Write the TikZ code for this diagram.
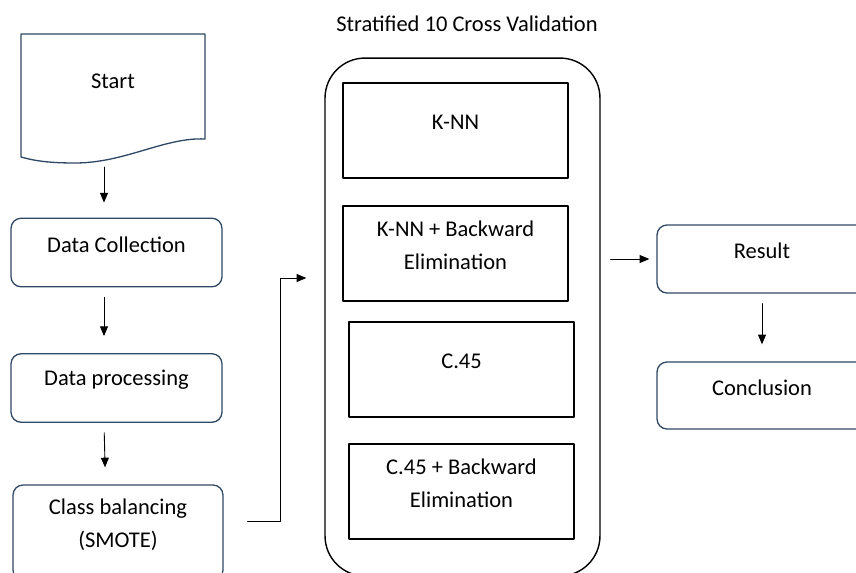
\documentclass[tikz,border=0pt]{standalone}
\usepackage{fontspec}
\setmainfont{Carlito}
\usetikzlibrary{arrows.meta}
\definecolor{boxblue}{RGB}{46,72,102}
\tikzset{
  stepbox/.style={draw=boxblue, line width=0.75pt, rounded corners=0.2cm,
    minimum width=4.22cm, minimum height=1.37cm},
  algobox/.style={draw=black, line width=0.8pt,
    minimum width=4.5cm, minimum height=1.9cm},
  boxtext/.style={label={[align=center, yshift=0.16cm]center:#1}},
  flow/.style={-{Triangle[width=4.5pt,length=5.5pt]}, line width=0.5pt,
    shorten <=0.2cm, shorten >=0.34cm}
}
\begin{document}
\begin{tikzpicture}[x=0.02cm, y=-0.02cm, line cap=round, line join=round,
  font=\fontsize{12.8pt}{18.7pt}\selectfont]
	%Frame of the picture
	\useasboundingbox (0,0) rectangle (856,572);
	\clip (0,0) rectangle (856,572);

	%Coordinates
	\coordinate (startfoot) at (104,162);
	\coordinate (bend) at (280,278);

	%Start (document shape)
	\path[draw=boxblue, line width=0.75pt] (21,157) -- (21,34) -- (205,34) -- (205,139)
	  .. controls (165,137) and (125,163) .. (75,163)
	  .. controls (50,163) and (35,161) .. (21,157);
	\node (start) at (113,81) {Start};

	%Left column
	\node[stepbox, boxtext={Data Collection}] (dc) at (116.5,252.5) {};
	\node[stepbox, boxtext={Data processing}] (dp) at (116.5,388) {};
	\node[stepbox, minimum width=4.2cm, minimum height=1.9cm,
	  boxtext={Class balancing\\(SMOTE)}] (cb) at (118,532.5) {};

	%Cross validation frame
	\node[draw=black, line width=0.8pt, rounded corners=0.8cm,
	  minimum width=5.5cm, minimum height=10.36cm] (frame) at (462.5,317) {};
	\node (title) at (467,24) {Stratified 10 Cross Validation};

	\node[algobox, boxtext={K-NN}] (knn) at (455.5,130.5) {};
	\node[algobox, boxtext={K-NN + Backward\\Elimination}] (knnbe) at (455.5,253.5) {};
	\node[algobox, boxtext={C.45}] (c45) at (461.5,369.5) {};
	\node[algobox, boxtext={C.45 + Backward\\Elimination}] (c45be) at (461.5,491.5) {};

	%Right column
	\node[stepbox, minimum width=4.2cm, minimum height=1.36cm, boxtext={Result}] (res) at (762,259) {};
	\node[stepbox, minimum width=4.2cm, minimum height=1.34cm, boxtext={Conclusion}] (con) at (762,395.5) {};

	%Connectors
	\draw[flow, shorten <=0.1cm, shorten >=0.3cm] (startfoot) -- (dc.north -| startfoot);
	\draw[flow] ([xshift=-0.25cm]dc.south) -- ([xshift=-0.25cm]dp.north);
	\draw[flow] ([xshift=-0.25cm]dp.south) -- ([xshift=-0.25cm]cb.north);
	\draw[flow, shorten <=0.48cm, shorten >=0.36cm] ([yshift=0.23cm]cb.east) -| (bend) -- (bend -| frame.west);
	\draw[flow, shorten >=0.14cm] (frame.east |- res.west) -- (res.west);
	\draw[flow] (res) -- (con);

\end{tikzpicture}
\end{document}
